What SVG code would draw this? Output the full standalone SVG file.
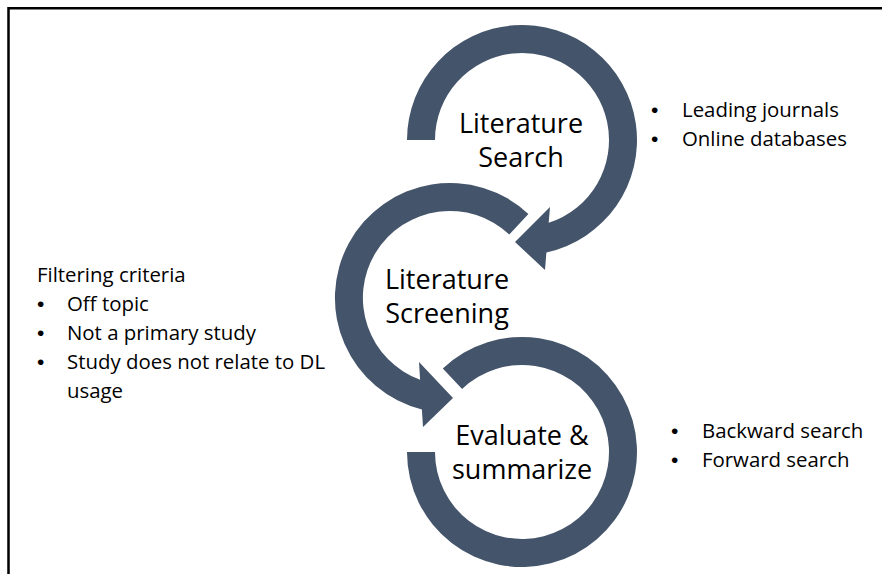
<svg xmlns="http://www.w3.org/2000/svg" width="882" height="574" viewBox="0 0 882 574">
<style>
.ring{fill:#44546A;}
.lbl{font-family:"Open Sans","Liberation Sans",sans-serif;font-size:27px;fill:#000;text-anchor:middle;}
.side{font-family:"Open Sans","Liberation Sans",sans-serif;font-size:20.4px;fill:#000;}
.bul{font-family:"Liberation Sans",sans-serif;font-size:21px;fill:#000;}
.frame{stroke:#000;stroke-width:2.5;fill:none;}
</style>
<rect width="882" height="574" fill="#fff"/>
<path class="frame" d="M8.5,574 V8.3 H882"/>
<g id="connectors">
</g>
<g id="node-search">
<path class="ring" d="M407,140 A115,115 0 1 1 546.4,252.4 L545,270 L515,242 L550,207 L548.7,222.8 A87,87 0 1 0 435,140 Z"/>
<text class="lbl" x="521" y="133">Literature</text>
<text class="lbl" x="521" y="167">Search</text>
</g>
<g id="node-screening">
<path class="ring" d="M528.4,213.9 A115,115 0 1 0 421.9,409.5 L423,427 L453,398 L419,362 L420.1,379.7 A87,87 0 1 1 509.3,234.4 Z"/>
<text class="lbl" x="447" y="289">Literature</text>
<text class="lbl" x="447" y="323">Screening</text>
</g>
<g id="node-evaluate">
<path class="ring" d="M407,452 A115,115 0 1 0 442.8,368.6 L462.1,388.9 A87,87 0 1 1 435,452 Z"/>
<text class="lbl" x="522" y="445">Evaluate &amp;</text>
<text class="lbl" x="522" y="479">summarize</text>
</g>
<g id="notes-search">
<text class="bul" x="651" y="117">•</text><text class="side" x="682" y="117">Leading journals</text>
<text class="bul" x="651" y="146">•</text><text class="side" x="682" y="146">Online databases</text>
</g>
<g id="notes-screening">
<text class="side" x="37" y="282">Filtering criteria</text>
<text class="bul" x="37" y="311">•</text><text class="side" x="67" y="311">Off topic</text>
<text class="bul" x="37" y="340">•</text><text class="side" x="67" y="340">Not a primary study</text>
<text class="bul" x="37" y="369">•</text><text class="side" x="67" y="369">Study does not relate to DL</text>
<text class="side" x="67" y="398">usage</text>
</g>
<g id="notes-evaluate">
<text class="bul" x="671" y="438">•</text><text class="side" x="702" y="438">Backward search</text>
<text class="bul" x="671" y="467">•</text><text class="side" x="702" y="467">Forward search</text>
</g>
</svg>
